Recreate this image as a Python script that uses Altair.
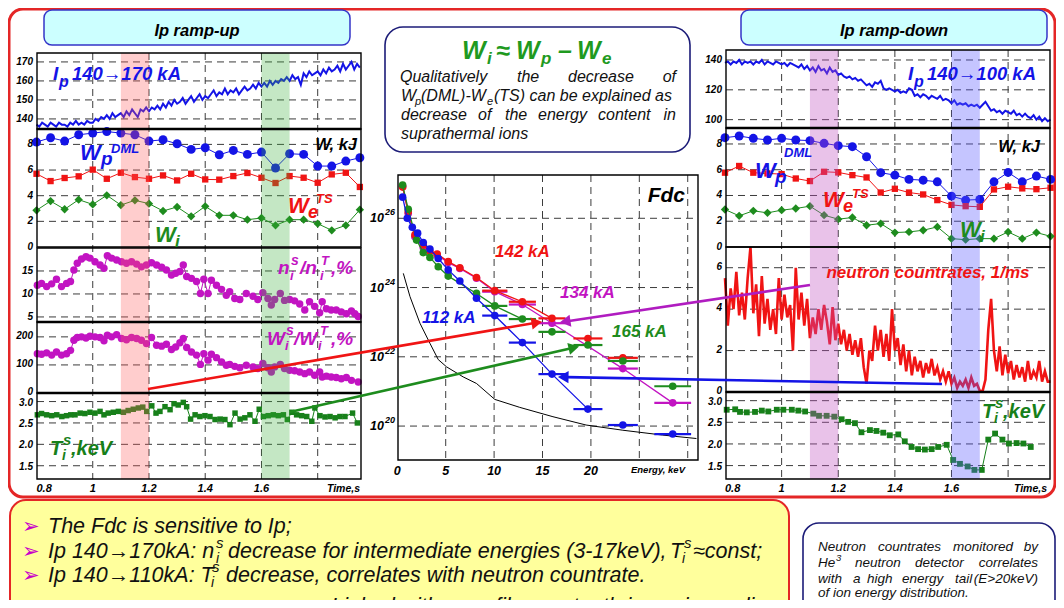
import math
import altair as alt
import pandas as pd

OFF = 8
FONT = "Liberation Sans"
BLUE = "#1414e6"
RED = "#f01414"
GREEN = "#1e8c1e"
DKGREEN = "#17801a"
MAG = "#c214c2"
TG = "#1f9a1f"
INK = "#111111"

# ---------------- data ----------------
# W (kJ) time samples
W_T = [0.80, 0.85, 0.90, 0.95, 1.00, 1.05, 1.10, 1.15, 1.20, 1.25, 1.30, 1.35,
       1.40, 1.45, 1.50, 1.55, 1.60, 1.65, 1.70, 1.75, 1.80, 1.85, 1.90, 1.95]
WP_UP = [8.18, 8.52, 8.26, 8.75, 8.88, 9.0, 8.88, 8.75, 8.26, 8.36, 8.05, 7.61,
         7.74, 7.19, 7.53, 7.22, 7.4, 6.16, 7.27, 7.22, 6.31, 6.31, 6.7, 6.96]
WE_UP = [5.71, 5.14, 5.38, 5.51, 6.03, 5.32, 5.79, 5.45, 5.32, 5.58, 5.19, 5.71,
         5.27, 5.25, 5.53, 5.77, 5.4, 4.99, 5.53, 5.4, 5.01, 5.66, 5.79, 4.68]
WI_UP = [2.86, 3.58, 2.94, 3.69, 3.32, 4.03, 3.27, 3.64, 3.38, 2.81, 3.12, 2.39,
         3.17, 2.47, 2.47, 2.13, 2.26, 1.69, 2.13, 2.13, 1.82, 1.3, 1.69, 2.91]
WP_DN = [8.49, 8.62, 8.44, 8.31, 8.44, 8.31, 8.26, 8.05, 7.87, 7.79, 7.01, 5.77,
         5.58, 5.25, 5.19, 5.06, 3.95, 3.64, 3.69, 5.06, 5.79, 5.06, 5.51, 5.25]
WE_DN = [5.77, 6.29, 5.77, 5.71, 5.66, 5.32, 5.12, 5.84, 5.79, 5.58, 5.4, 4.23,
         4.52, 4.23, 4.08, 3.64, 3.27, 3.17, 3.12, 4.47, 4.68, 4.55, 4.49, 4.6]
WI_DN = [2.91, 2.42, 2.81, 2.65, 2.86, 2.99, 3.17, 2.47, 2.16, 2.29, 1.69, 1.82,
         1.12, 1.17, 1.3, 1.56, 0.65, 0.57, 0.65, 0.65, 1.17, 0.65, 1.12, 0.83]

# plasma current traces, sampled every 10 ms from 0.80 s
IP_UP = [137, 136, 138, 137, 136, 138, 137, 136, 138, 137,
         137, 136, 138, 137, 139, 137, 138, 137, 139, 138,
         138, 140, 139, 141, 140, 142, 140, 143, 141, 142,
         143, 141, 144, 142, 145, 143, 141, 145, 144, 146,
         144, 146, 145, 147, 145, 148, 146, 149, 147, 150,
         148, 149, 151, 148, 150, 152, 149, 151, 153, 150,
         152, 151, 153, 155, 152, 154, 153, 156, 153, 155,
         154, 156, 153, 155, 157, 155, 156, 158, 156, 159,
         157, 159, 157, 160, 158, 160, 159, 161, 160, 162,
         160, 163, 161, 162, 158, 164, 162, 165, 163, 164,
         165, 163, 166, 164, 167, 165, 166, 168, 165, 169,
         166, 168, 170, 166, 169, 167]
IP_DN = [138, 139, 137, 139, 138, 140, 137, 139, 138, 139,
         137, 139, 138, 140, 137, 139, 138, 137, 139, 138,
         137, 138, 136, 138, 137, 136, 135, 137, 134, 136,
         133, 135, 132, 136, 133, 134, 131, 135, 132, 133,
         130, 131, 129, 128, 129, 127, 128, 126, 127, 125,
         123, 124, 122, 125, 124, 126, 121, 120, 121, 120,
         119, 120, 118, 119, 118, 121, 120, 116, 117, 115,
         117, 116, 114, 116, 115, 114, 116, 113, 114, 113,
         111, 113, 110, 111, 110, 111, 109, 110, 109, 110,
         108, 110, 112, 109, 106, 107, 105, 106, 104, 106,
         105, 104, 106, 103, 104, 102, 104, 102, 101, 103,
         100, 102, 99, 101, 99, 100]
NEUT = [5.5, 3.2, 5.0, 4.0, 5.8, 3.7, 4.8, 3.5, 5.5, 7.0,
        3.8, 5.2, 2.7, 5.6, 3.3, 4.5, 3.0, 4.0, 2.8, 5.5,
        3.5, 4.7, 3.6, 4.2, 2.0, 6.0, 3.5, 4.8, 3.2, 4.5,
        2.6, 3.6, 2.8, 4.0, 3.0, 4.2, 3.4, 2.3, 4.1, 2.5,
        3.3, 2.3, 3.0, 2.0, 2.8, 1.8, 2.5, 1.7, 2.6, 1.2,
        0.4, 2.0, 1.5, 3.2, 2.0, 3.0, 1.7, 2.8, 1.5, 4.0,
        2.0, 2.6, 1.3, 2.3, 1.0, 2.0, 0.8, 1.7, 1.0, 1.5,
        0.7, 1.4, 0.9, 1.6, 0.8, 1.2, 0.6, 1.0, 0.5, 1.0,
        0.4, 0.7, 0.2, 0.5, 0.3, 0.6, 0.2, 0.7, 0.3, 0.4,
        0.05, 0.05, 0.6, 3.0, 4.5, 2.0, 1.0, 2.2, 0.8, 1.8,
        0.9, 1.5, 0.6, 1.3, 0.7, 1.2, 0.5, 1.5, 0.6, 1.0,
        0.7, 1.5, 0.5, 1.0, 0.5, 0.5]
TRACE_T = [round(0.80 + 0.01 * i, 2) for i in range(len(IP_UP))]

# n_i^s / n_i^T (%)
NI_T = [0.803, 0.818, 0.836, 0.854, 0.871, 0.889, 0.907, 0.921, 0.933, 0.945,
        0.960, 0.976, 0.990, 1.008, 1.026, 1.040, 1.052, 1.067, 1.085, 1.102,
        1.120, 1.138, 1.156, 1.173, 1.191, 1.209, 1.227, 1.245, 1.262, 1.280,
        1.295, 1.310, 1.322, 1.334, 1.351, 1.369, 1.383, 1.395, 1.410, 1.422,
        1.440, 1.458, 1.475, 1.487, 1.505, 1.523, 1.546, 1.570, 1.587, 1.605,
        1.623, 1.635, 1.647, 1.667, 1.682, 1.700, 1.718, 1.736, 1.754, 1.771,
        1.789, 1.807, 1.816, 1.831, 1.848, 1.866, 1.884, 1.902, 1.920, 1.932, 1.944]
NI_V = [11.9, 12.3, 11.6, 12.2, 13.2, 11.6, 12.3, 12.7, 15.2, 16.7,
        17.6, 18.1, 17.8, 17.0, 16.3, 15.6, 18.3, 17.8, 17.4, 17.0,
        16.7, 17.0, 16.5, 15.9, 16.3, 16.8, 16.3, 15.8, 15.2, 14.1,
        14.5, 14.9, 16.3, 13.8, 13.4, 12.7, 10.1, 13.2, 10.1, 13.0,
        11.9, 11.0, 9.7, 10.5, 9.0, 8.8, 10.1, 9.5, 8.8, 10.3,
        9.0, 7.6, 8.8, 10.1, 8.6, 8.8, 8.5, 7.8, 6.5, 8.3,
        7.3, 5.9, 8.3, 6.8, 6.5, 6.5, 6.1, 5.7, 6.3, 5.7, 5.1]
# W_i^s / W_i^T (%)
WR_T = [0.803, 0.818, 0.836, 0.854, 0.871, 0.889, 0.907, 0.921, 0.933, 0.945,
        0.960, 0.976, 0.990, 1.008, 1.026, 1.040, 1.052, 1.067, 1.085, 1.102,
        1.120, 1.138, 1.156, 1.173, 1.191, 1.209, 1.227, 1.245, 1.262, 1.280,
        1.295, 1.310, 1.322, 1.334, 1.351, 1.369, 1.383, 1.395, 1.410, 1.422,
        1.440, 1.458, 1.475, 1.487, 1.505, 1.523, 1.546, 1.570, 1.587, 1.605,
        1.623, 1.635, 1.647, 1.667, 1.682, 1.700, 1.718, 1.736, 1.754, 1.771,
        1.789, 1.807, 1.816, 1.831, 1.848, 1.866, 1.884, 1.902, 1.920, 1.944]
WR_V = [140, 138, 143, 135, 146, 135, 140, 152, 188, 198,
        200, 196, 202, 200, 198, 186, 206, 200, 208, 194,
        190, 198, 194, 188, 176, 198, 170, 167, 174, 155,
        164, 179, 194, 162, 146, 135, 102, 140, 117, 138,
        126, 111, 99, 102, 95, 90, 99, 93, 87, 105,
        90, 75, 93, 102, 87, 81, 79, 75, 69, 75,
        63, 75, 57, 60, 57, 55, 51, 55, 45, 39]
# T_i^s (keV), ramp-up
TIU_T = [0.803, 0.818, 0.836, 0.854, 0.872, 0.890, 0.907, 0.922, 0.937, 0.955,
         0.972, 0.990, 1.008, 1.026, 1.040, 1.055, 1.073, 1.091, 1.109, 1.126,
         1.144, 1.162, 1.178, 1.192, 1.210, 1.225, 1.239, 1.257, 1.275, 1.289,
         1.304, 1.322, 1.334, 1.348, 1.364, 1.381, 1.399, 1.417, 1.435, 1.453,
         1.470, 1.488, 1.506, 1.524, 1.541, 1.559, 1.577, 1.592, 1.607, 1.624,
         1.642, 1.660, 1.678, 1.692, 1.708, 1.725, 1.743, 1.761, 1.779, 1.790,
         1.808, 1.826, 1.844, 1.862, 1.879, 1.897, 1.924, 1.941]
TIU_V = [2.69, 2.72, 2.69, 2.67, 2.69, 2.65, 2.67, 2.69, 2.69, 2.73,
         2.72, 2.75, 2.73, 2.77, 2.69, 2.73, 2.75, 2.77, 2.75, 2.79,
         2.82, 2.85, 2.87, 2.77, 2.90, 2.73, 2.77, 2.88, 2.81, 2.95,
         2.92, 2.98, 2.88, 2.59, 2.69, 2.65, 2.67, 2.65, 2.58, 2.59,
         2.58, 2.46, 2.73, 2.59, 2.62, 2.69, 2.54, 2.82, 2.65, 2.67,
         2.69, 2.67, 2.69, 2.58, 2.75, 2.69, 2.67, 2.65, 2.54, 2.85,
         2.67, 2.64, 2.65, 2.62, 2.65, 2.65, 2.73, 2.50]
# T_i^s (keV), ramp-down
TID_T = [0.806, 0.836, 0.853, 0.877, 0.906, 0.930, 0.953, 0.983, 1.006, 1.036,
         1.059, 1.083, 1.112, 1.132, 1.159, 1.186, 1.212, 1.235, 1.259, 1.282,
         1.312, 1.335, 1.359, 1.382, 1.412, 1.435, 1.459, 1.482, 1.506, 1.530,
         1.553, 1.583, 1.606, 1.630, 1.657, 1.681, 1.707, 1.730, 1.754, 1.780,
         1.803, 1.830, 1.854, 1.880]
TID_V = [2.79, 2.80, 2.74, 2.73, 2.74, 2.77, 2.75, 2.79, 2.79, 2.79,
         2.77, 2.75, 2.70, 2.65, 2.65, 2.63, 2.57, 2.51, 2.48, 2.27,
         2.32, 2.30, 2.26, 2.20, 2.22, 2.06, 1.93, 1.88, 1.87, 1.88,
         1.93, 1.98, 1.63, 1.54, 1.48, 1.40, 1.40, 2.10, 2.24, 2.10,
         2.01, 2.02, 2.01, 1.93]

# Fdc: energy (keV) and log10 of distribution
FB_E = [0.55, 1.03, 1.55, 2.10, 2.68, 3.37, 4.23, 5.26, 6.46, 8.18, 10.07, 12.92, 15.98, 19.69, 23.30, 28.45]
FB_L = [26.61, 26.0, 25.74, 25.57, 25.30, 25.11, 24.84, 24.51, 24.19, 23.69, 23.19, 22.41, 21.50, 20.49, 20.03, 19.77]
FG_E = [0.55, 1.13, 1.99, 2.68, 3.37, 4.23, 5.26, 8.18, 10.07, 12.92, 15.98, 19.69, 23.30, 28.45]
FG_L = [26.96, 26.26, 25.37, 25.01, 24.87, 24.60, 24.33, 23.83, 23.47, 23.09, 22.72, 22.34, 21.88, 21.15]
FR_E = [0.55, 1.13, 1.82, 2.68, 3.37, 4.12, 5.26, 6.46, 8.18, 10.07, 12.92, 15.98, 19.69, 23.30]
FR_L = [26.9, 26.19, 25.52, 25.23, 25.04, 24.97, 24.75, 24.57, 24.29, 23.91, 23.59, 23.11, 22.53, 21.97]
FM_E = [0.55, 1.13, 1.82, 2.68, 4.12, 5.26, 6.46, 8.18, 10.07, 12.92, 15.98, 23.30, 28.45]
FM_L = [26.92, 26.14, 25.47, 25.16, 24.94, 24.72, 24.55, 24.27, 23.88, 23.51, 22.97, 21.66, 20.67]
FK_E = [0.62, 1.31, 2.34, 3.37, 4.23, 5.09, 6.8, 8.18, 10.07, 12.65, 16.08, 19.5, 23.3, 27.4, 30.9]
FK_L = [24.41, 23.74, 22.97, 22.39, 21.92, 21.71, 21.42, 21.23, 20.77, 20.54, 20.27, 20.03, 19.88, 19.74, 19.64]
ERR_E = [10.07, 12.92, 15.98, 19.69, 23.30, 28.45]
ERR_W = [1.3, 1.4, 1.4, 1.5, 1.55, 1.9]
LINE_MAX = {"blue": 20.0, "green": 13.0, "red": 16.0, "mag": 30.0}

# shaded time windows (s)
BAND_A = [1.1, 1.2]
BAND_B = [1.6, 1.7]

# tick values / labels
TIME_TICKS = [0.8, 1.0, 1.2, 1.4, 1.6]
TIME_LABS = ["0.8", "1", "1.2", "1.4", "1.6"]
TIME_GRID = [1.0, 1.2, 1.4, 1.6, 1.8]
LIP_TICKS = [140, 150, 160, 170]
RIP_TICKS = [100, 120, 140]
W_TICKS = [0, 2, 4, 6, 8]
NI_TICKS = [5, 10, 15]
WR_TICKS = [0, 100, 200]
TI_TICKS = [1.5, 2.0, 2.5, 3.0]
N_TICKS = [0, 2, 4, 6]
E_TICKS = [0, 5, 10, 15, 20]
E_GRID = [5, 10, 15, 20, 25, 30]
F_EXP = [20, 22, 24, 26]

# ---------------- scales (page pixel ranges) ----------------
def lin(dom, rng):
    return alt.Scale(type="linear", domain=list(dom), range=[rng[0] - OFF, rng[1] - OFF], nice=False, zero=False)

LX = lin((0.8, 1.954), (36.5, 361))
RX = lin((0.8, 1.948), (725, 1050))
FX = lin((0, 31), (397.3, 697.4))
LY_IP = lin((134.7, 174.7), (129, 53))
LY_W = lin((0, 9.2), (247, 129))
LY_NI = lin((3.9, 20), (322, 248))
LY_WR = lin((0, 253), (393, 322))
LY_TI = lin((1.19, 3.2), (479, 393))
RY_IP = lin((94.4, 146.7), (128, 50))
RY_W = lin((0, 9.24), (247, 128))
RY_N = lin((0, 7), (392, 247))
RY_TI = lin((1.19, 3.2), (479, 392))
FY = alt.Scale(type="log", domain=[10 ** 19.02, 10 ** 27.25], range=[460 - OFF, 175 - OFF], nice=False)

GRID = dict(color="#3c3c3c", strokeWidth=1, strokeDash=[7, 5])
TICKFONT = dict(font=FONT, fontStyle="italic", fontWeight="bold", color="black")

L = []


def pixdf(rows, cols):
    df = pd.DataFrame(rows, columns=cols)
    for c in cols:
        if c.startswith("x") or c.startswith("y"):
            df[c] = df[c] - OFF
    return df


def pix_rects(rows, **mk):
    df = pixdf(rows, ["x0", "x1", "y0", "y1"])
    return alt.Chart(df).mark_rect(**mk).encode(
        x=alt.X("x0:Q", scale=None, axis=None), x2="x1:Q",
        y=alt.Y("y0:Q", scale=None, axis=None), y2="y1:Q")


def series(t, v, xs, ys, color, shape=None, size=40, sw=1.0, line=True):
    df = pd.DataFrame({"t": t, "v": v})
    enc = dict(x=alt.X("t:Q", scale=xs, axis=None), y=alt.Y("v:Q", scale=ys, axis=None))
    out = []
    if line:
        out.append(alt.Chart(df).mark_line(color=color, strokeWidth=sw).encode(**enc))
    if shape:
        out.append(alt.Chart(df).mark_point(filled=True, shape=shape, size=size, color=color,
                                            opacity=1, strokeWidth=0).encode(**enc))
    return out


def hgrid(vals, ys, x0, x1):
    return alt.Chart(pd.DataFrame({"v": vals})).mark_rule(**GRID).encode(
        y=alt.Y("v:Q", scale=ys, axis=None), x=alt.value(x0 - OFF), x2=alt.value(x1 - OFF))


def vgrid(vals, xs, y0, y1):
    return alt.Chart(pd.DataFrame({"v": vals})).mark_rule(**GRID).encode(
        x=alt.X("v:Q", scale=xs, axis=None), y=alt.value(y0 - OFF), y2=alt.value(y1 - OFF))


def ylabels(vals, labs, ys, xpix, size=10, dy=0, align="right", baseline="middle"):
    df = pd.DataFrame({"v": vals, "lab": labs})
    return alt.Chart(df).mark_text(align=align, baseline=baseline, fontSize=size, dy=dy, **TICKFONT).encode(
        x=alt.value(xpix - OFF), y=alt.Y("v:Q", scale=ys, axis=None), text="lab:N")


def xlabels(vals, labs, xs, ypix, size=11, align="center"):
    df = pd.DataFrame({"v": vals, "lab": labs})
    return alt.Chart(df).mark_text(align=align, baseline="alphabetic", fontSize=size, **TICKFONT).encode(
        x=alt.X("v:Q", scale=xs, axis=None), y=alt.value(ypix - OFF), text="lab:N")


def band(tt, xs, y0, y1, color, op):
    df = pd.DataFrame({"a": [tt[0]], "b": [tt[1]]})
    return alt.Chart(df).mark_rect(color=color, opacity=op).encode(
        x=alt.X("a:Q", scale=xs, axis=None), x2="b:Q", y=alt.value(y0 - OFF), y2=alt.value(y1 - OFF))


def fmt(v):
    return ("%g" % v) if v != int(v) or v >= 10 else ("%d" % v)

# ---------------- background boxes ----------------
L.append(pix_rects([(9, 1055, 9, 497)], fillOpacity=0, stroke="#e42626", strokeWidth=3, cornerRadius=14))
L.append(pix_rects([(44, 350, 10, 45), (741, 1047, 10, 45)], fill="#ccffff", stroke="#3434c8",
                   strokeWidth=1.5, cornerRadius=8))
L.append(pix_rects([(385, 690, 27, 152)], fill="white", stroke="#1c1c78", strokeWidth=1.6, cornerRadius=18))
L.append(pix_rects([(10, 789, 500, 625)], fill="#ffff9c", stroke="#e42626", strokeWidth=2, cornerRadius=16))
L.append(pix_rects([(803, 1055, 523, 625)], fill="white", stroke="#1c1c78", strokeWidth=1.6, cornerRadius=16))

# ---------------- grids ----------------
L.append(vgrid(TIME_GRID, LX, 53, 479))
L.append(vgrid(TIME_GRID, RX, 50, 479))
L += [hgrid(LIP_TICKS, LY_IP, 37, 361), hgrid(W_TICKS[1:], LY_W, 37, 361), hgrid(NI_TICKS, LY_NI, 37, 361),
      hgrid(WR_TICKS[1:], LY_WR, 37, 361), hgrid(TI_TICKS, LY_TI, 37, 361)]
L += [hgrid(RIP_TICKS, RY_IP, 726, 1050), hgrid(W_TICKS[1:], RY_W, 726, 1050), hgrid(N_TICKS[1:], RY_N, 726, 1050),
      hgrid(TI_TICKS, RY_TI, 726, 1050)]
L.append(vgrid(E_GRID, FX, 175, 460))
L.append(hgrid([10.0 ** e for e in F_EXP], FY, 398, 698))

# ---------------- left (ramp-up) data ----------------
L += series(TRACE_T, IP_UP, LX, LY_IP, BLUE, sw=2.0)
L += series(W_T, WP_UP, LX, LY_W, BLUE, "circle", 80)
L += series(W_T, WE_UP, LX, LY_W, RED, "square", 40)
L += series(W_T, WI_UP, LX, LY_W, GREEN, "diamond", 70)
L += series(NI_T, NI_V, LX, LY_NI, MAG, "circle", 55)
L += series(WR_T, WR_V, LX, LY_WR, MAG, "circle", 55)
L += series(TIU_T, TIU_V, LX, LY_TI, DKGREEN, "square", 30)

# ---------------- right (ramp-down) data ----------------
L += series(TRACE_T, IP_DN, RX, RY_IP, BLUE, sw=2.0)
L += series(W_T, WP_DN, RX, RY_W, BLUE, "circle", 80)
L += series(W_T, WE_DN, RX, RY_W, RED, "square", 40)
L += series(W_T, WI_DN, RX, RY_W, GREEN, "diamond", 70)
L += series(TRACE_T, NEUT, RX, RY_N, RED, sw=2.6)
L += series(TID_T, TID_V, RX, RY_TI, DKGREEN, "square", 34)

# ---------------- Fdc ----------------
fdc_sets = [("mag", FM_E, FM_L, MAG), ("red", FR_E, FR_L, RED), ("green", FG_E, FG_L, GREEN),
            ("blue", FB_E, FB_L, BLUE)]
L += series(FK_E, [10.0 ** v for v in FK_L], FX, FY, "black", sw=1.0)
for name, es, ls, col in fdc_sets:
    vals = [10.0 ** v for v in ls]
    le = [e for e in es if e <= LINE_MAX[name]]
    L += series(le, vals[:len(le)], FX, FY, col, sw=1.3)
    rows = [(e, v, ERR_W[ERR_E.index(e)]) for e, v in zip(es, vals) if e in ERR_E]
    edf = pd.DataFrame(rows, columns=["e", "v", "w"])
    edf["lo"] = edf["e"] - edf["w"]
    edf["hi"] = edf["e"] + edf["w"]
    L.append(alt.Chart(edf).mark_rule(color=col, strokeWidth=2.2).encode(
        x=alt.X("lo:Q", scale=FX, axis=None), x2="hi:Q", y=alt.Y("v:Q", scale=FY, axis=None)))
    L += series(es, vals, FX, FY, col, "circle", 58, line=False)

# ---------------- shaded windows ----------------
L.append(band(BAND_A, LX, 53, 479, "#ff5a5a", 0.3))
L.append(band(BAND_B, LX, 53, 479, "#3cae3c", 0.3))
L.append(band(BAND_A, RX, 50, 479, "#c050c0", 0.35))
L.append(band(BAND_B, RX, 50, 479, "#5a5aff", 0.35))

# ---------------- frames ----------------
L.append(pix_rects([(37, 361, 53, 129), (37, 361, 129, 247), (37, 361, 248, 322), (37, 361, 322, 393),
                    (37, 361, 393, 479), (726, 1050, 50, 128), (726, 1050, 128, 247), (726, 1050, 247, 392),
                    (726, 1050, 392, 479), (398, 698, 175, 460)],
                   fillOpacity=0, stroke="black", strokeWidth=1.4))
sep = pixdf([(37, 361, 129), (37, 361, 322), (37, 361, 393), (726, 1050, 128), (726, 1050, 392)],
            ["x0", "x1", "y0"])
L.append(alt.Chart(sep).mark_rule(color="black", strokeWidth=2.6).encode(
    x=alt.X("x0:Q", scale=None, axis=None), x2="x1:Q", y=alt.Y("y0:Q", scale=None, axis=None)))

# ---------------- tick labels ----------------
L += [ylabels(LIP_TICKS, [fmt(v) for v in LIP_TICKS], LY_IP, 33),
      ylabels(W_TICKS, [fmt(v) for v in W_TICKS], LY_W, 33),
      ylabels(NI_TICKS, [fmt(v) for v in NI_TICKS], LY_NI, 33),
      ylabels(WR_TICKS, [fmt(v) for v in WR_TICKS], LY_WR, 33, dy=-1),
      ylabels(TI_TICKS, ["%.1f" % v for v in TI_TICKS], LY_TI, 33, dy=1),
      ylabels(RIP_TICKS, [fmt(v) for v in RIP_TICKS], RY_IP, 722),
      ylabels(W_TICKS, [fmt(v) for v in W_TICKS], RY_W, 722),
      ylabels(N_TICKS, [fmt(v) for v in N_TICKS], RY_N, 722, dy=-1),
      ylabels(TI_TICKS, ["%.1f" % v for v in TI_TICKS], RY_TI, 722, dy=1)]
for xs, yp in ((LX, 492), (RX, 492)):
    L.append(xlabels(TIME_TICKS[:1], TIME_LABS[:1], xs, yp, align="left"))
    L.append(xlabels(TIME_TICKS[1:], TIME_LABS[1:], xs, yp))
L.append(xlabels(E_TICKS, [str(v) for v in E_TICKS], FX, 475, size=12.5))
fvals = [10.0 ** e for e in F_EXP]
L.append(ylabels(fvals, ["10"] * len(F_EXP), FY, 384, size=12.5, dy=4, baseline="alphabetic"))
L.append(ylabels(fvals, [str(e) for e in F_EXP], FY, 385, size=9, dy=-3, align="left", baseline="alphabetic"))

# ---------------- arrows ----------------
ARROWS = [(148, 389, 540, 322, RED), (290, 412, 577, 347, GREEN),
          (810, 285, 562, 322, "#b01cc0"), (942, 384, 560, 377, BLUE)]
ar_rows, hd_rows = [], []
for x0, y0, x1, y1, col in ARROWS:
    dx, dy = x1 - x0, y1 - y0
    n = math.hypot(dx, dy)
    ux, uy = dx / n, dy / n
    ar_rows.append((x0, y0, x1 - 7 * ux, y1 - 7 * uy, col))
    hd_rows.append((x1 - 5 * ux, y1 - 5 * uy, math.degrees(math.atan2(dx, -dy)) % 360, col))
adf = pixdf(ar_rows, ["x0", "y0", "x1", "y1", "c"])
L.append(alt.Chart(adf).mark_rule(strokeWidth=2.6).encode(
    x=alt.X("x0:Q", scale=None, axis=None), y=alt.Y("y0:Q", scale=None, axis=None),
    x2="x1:Q", y2="y1:Q", color=alt.Color("c:N", scale=None, legend=None)))
hdf = pixdf(hd_rows, ["x", "y", "a", "c"])
L.append(alt.Chart(hdf).mark_point(shape="triangle", filled=True, size=150, opacity=1).encode(
    x=alt.X("x:Q", scale=None, axis=None), y=alt.Y("y:Q", scale=None, axis=None),
    angle=alt.Angle("a:Q", scale=None), color=alt.Color("c:N", scale=None, legend=None)))

# ---------------- text annotations ----------------
K = "#000000"
BS = 21.5  # bottom-box font size
TXT = [
    ("Ip ramp-up", 197, 36, 16.5, K, "bic"), ("Ip ramp-down", 894, 36, 16.5, K, "bic"),
    ("W", 462, 59, 25, TG, "bi"), ("i", 487, 64, 17, TG, "bi"), ("≈", 496, 59, 25, TG, "bi"),
    ("W", 516, 59, 25, TG, "bi"), ("p", 541, 64, 17, TG, "bi"), ("–", 558, 59, 25, TG, "bi"),
    ("W", 577, 59, 25, TG, "bi"), ("e", 602, 64, 17, TG, "bi"),
    ("Qualitatively", 400, 82, 16, INK, "i"), ("the", 517, 82, 16, INK, "i"),
    ("decrease", 568, 82, 16, INK, "i"), ("of", 676, 82, 16, INK, "ir"),
    ("W", 401, 101, 16, INK, "i"), ("p", 415, 105, 11, INK, "i"), ("(DML)-W", 421, 101, 16, INK, "i"),
    ("e", 487, 105, 11, INK, "i"), ("(TS) can be explained as", 494, 101, 16, INK, "i"),
    ("decrease", 401, 120, 16, INK, "i"), ("of", 478, 120, 16, INK, "i"), ("the", 505, 120, 16, INK, "i"),
    ("energy", 538, 120, 16, INK, "i"), ("content", 598, 120, 16, INK, "i"), ("in", 676, 120, 16, INK, "ir"),
    ("suprathermal ions", 401, 139, 16, INK, "i"),
    # left panels
    ("I", 53, 80, 19, BLUE, "bi"), ("p", 59, 87, 16, BLUE, "bi"), ("140→170 kA", 72, 80, 18.5, BLUE, "bi"),
    ("W", 80, 160, 22, BLUE, "bi"), ("p", 101, 165, 19, BLUE, "bi"), ("DML", 111, 153, 13, BLUE, "bi"),
    ("W, kJ", 357, 150, 16.5, K, "bir"),
    ("W", 288, 213, 22, RED, "bi"), ("e", 308, 218, 18, RED, "bi"), ("TS", 316, 203, 13, RED, "bi"),
    ("W", 155, 242, 22, GREEN, "bi"), ("i", 175, 247, 17, GREEN, "bi"),
    ("n", 278, 274, 19, MAG, "bi"), ("i", 290, 280, 13, MAG, "bi"), ("s", 291, 265, 14, MAG, "bi"),
    ("/n", 300, 274, 19, MAG, "bi"), ("i", 320, 280, 13, MAG, "bi"), ("T", 321, 265, 13, MAG, "bi"),
    (",%", 331, 274, 19, MAG, "bi"),
    ("W", 267, 345, 19, MAG, "bi"), ("i", 285, 350, 13, MAG, "bi"), ("s", 286, 335, 14, MAG, "bi"),
    ("/W", 294, 345, 19, MAG, "bi"), ("i", 318, 350, 13, MAG, "bi"), ("T", 320, 335, 13, MAG, "bi"),
    (",%", 331, 345, 19, MAG, "bi"),
    ("T", 50, 455, 20, DKGREEN, "bi"), ("i", 62, 460, 14, DKGREEN, "bi"), ("s", 63, 445, 15, DKGREEN, "bi"),
    (",keV", 71, 455, 20, DKGREEN, "bi"),
    ("Time,s", 360, 492, 10.5, K, "bir"),
    # right panels
    ("I", 908, 80, 19, BLUE, "bi"), ("p", 914, 87, 16, BLUE, "bi"), ("140→100 kA", 927, 80, 18.5, BLUE, "bi"),
    ("W", 755, 178, 22, BLUE, "bi"), ("p", 775, 183, 19, BLUE, "bi"), ("DML", 784, 157, 13, BLUE, "bi"),
    ("W, kJ", 1040, 152, 16.5, K, "bir"),
    ("W", 823, 207, 22, RED, "bi"), ("e", 843, 212, 18, RED, "bi"), ("TS", 852, 198, 13, RED, "bi"),
    ("W", 960, 237, 22, GREEN, "bi"), ("i", 980, 242, 17, GREEN, "bi"),
    ("neutron countrates, 1/ms", 928, 278, 17, RED, "bic"),
    ("T", 982, 418, 20, DKGREEN, "bi"), ("i", 994, 423, 14, DKGREEN, "bi"), ("s", 995, 408, 15, DKGREEN, "bi"),
    (",keV", 1003, 418, 20, DKGREEN, "bi"),
    ("Time,s", 1047, 492, 10.5, K, "bir"),
    # Fdc
    ("Fdc", 685, 202, 21, K, "bir"),
    ("142 kA", 495, 257, 17, RED, "bi"), ("134 kA", 560, 298, 17, MAG, "bi"),
    ("112 kA", 422, 323, 17, BLUE, "bi"), ("165 kA", 612, 337, 17, GREEN, "bi"),
    ("Energy, keV", 685, 473, 9.5, K, "bir"),
    # bottom yellow box
    ("➢", 22, 533, 21, "#c800c8", "bul"), ("➢", 22, 558, 21, "#c800c8", "bul"),
    ("➢", 22, 582, 21, "#c800c8", "bul"),
    ("The Fdc is sensitive to Ip;", 48, 533, BS, INK, "i"),
    ("Ip 140→170kA: n", 48, 558, BS, INK, "i"), ("i", 216, 563, 14, INK, "i"), ("s", 216, 548, 15, INK, "i"),
    ("decrease for  intermediate energies (3-17keV),", 228, 558, BS, INK, "i"),
    ("T", 670, 558, BS, INK, "i"), ("i", 682, 563, 14, INK, "i"), ("s", 684, 548, 15, INK, "i"),
    ("≈const;", 693, 558, BS, INK, "i"),
    ("Ip 140→110kA: T", 48, 582, BS, INK, "i"), ("i", 211, 587, 14, INK, "i"), ("s", 212, 572, 15, INK, "i"),
    ("decrease, correlates with neutron countrate.", 226, 582, BS, INK, "i"),
    ("Linked with q-profile, sawtooth inversion radius", 777, 613, BS, INK, "ir"),
    # blue box
    ("Neutron", 818, 551, 13.5, INK, "i"), ("countrates", 878, 551, 13.5, INK, "i"),
    ("monitored", 953, 551, 13.5, INK, "i"), ("by", 1038, 551, 13.5, INK, "ir"),
    ("He", 818, 567, 13.5, INK, "i"), ("3", 836, 561, 9.5, INK, "i"), ("neutron", 855, 567, 13.5, INK, "i"),
    ("detector", 915, 567, 13.5, INK, "i"), ("correlates", 1038, 567, 13.5, INK, "ir"),
    ("with", 818, 583, 13.5, INK, "i"), ("a", 853, 583, 13.5, INK, "i"), ("high", 867, 583, 13.5, INK, "i"),
    ("energy", 902, 583, 13.5, INK, "i"), ("tail", 955, 583, 13.5, INK, "i"),
    ("(E>20keV)", 1038, 583, 13.5, INK, "ir"),
    ("of ion energy distribution.", 818, 597, 13.5, INK, "i"),
]
STYLES = {
    "bi": dict(align="left", font=FONT, fontStyle="italic", fontWeight="bold"),
    "bir": dict(align="right", font=FONT, fontStyle="italic", fontWeight="bold"),
    "bic": dict(align="center", font=FONT, fontStyle="italic", fontWeight="bold"),
    "i": dict(align="left", font=FONT, fontStyle="italic"),
    "ir": dict(align="right", font=FONT, fontStyle="italic"),
    "bul": dict(align="left", font="DejaVu Sans"),
}
tdf = pixdf([t[:5] for t in TXT], ["text", "x", "y", "size", "color"])
tdf["key"] = [t[5] for t in TXT]
for key, g in tdf.groupby("key"):
    L.append(alt.Chart(g.drop(columns="key")).mark_text(baseline="alphabetic", **STYLES[key]).encode(
        x=alt.X("x:Q", scale=None, axis=None), y=alt.Y("y:Q", scale=None, axis=None), text="text:N",
        size=alt.Size("size:Q", scale=None, legend=None), color=alt.Color("color:N", scale=None, legend=None)))

chart = alt.layer(*L).resolve_scale(x="independent", y="independent").properties(
    width=1048, height=592, padding=0, autosize=alt.AutoSizeParams(type="none"), background="white"
).configure_view(strokeOpacity=0)

chart.save("out.html", embed_options={"renderer": "svg", "actions": False})
